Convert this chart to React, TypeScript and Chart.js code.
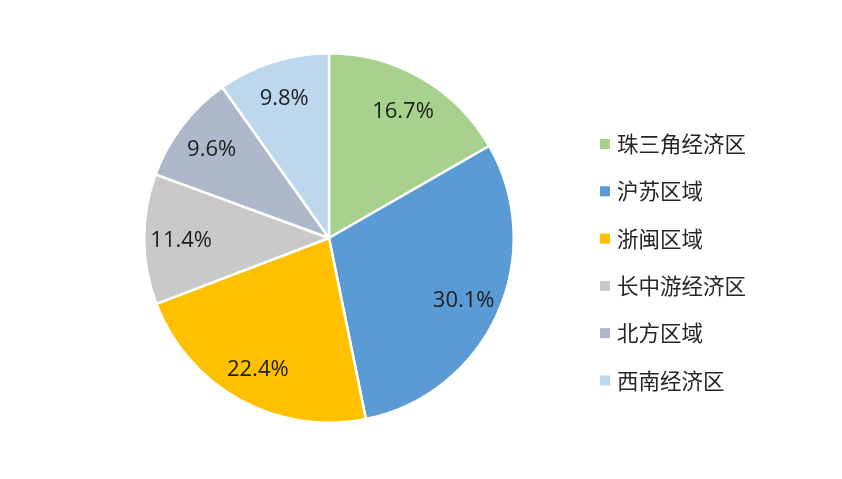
import React, { useEffect, useRef } from "react";
import { Chart, registerables } from "chart.js";

Chart.register(...registerables);

const categories = ["珠三角经济区", "沪苏区域", "浙闽区域", "长中游经济区", "北方区域", "西南经济区"];
const shares = [16.7, 30.1, 22.4, 11.4, 9.6, 9.8];
const sliceColors = ["#A9D18E", "#5B9BD5", "#FFC000", "#C9C9C9", "#ADB9CA", "#BDD7EE"];

const sliceLabelPlugin = {
  id: "sliceLabels",
  afterDatasetsDraw(chart: any) {
    const ctx = chart.ctx;
    const meta = chart.getDatasetMeta(0);
    const ds = chart.data.datasets[0];
    ctx.save();
    ctx.font = "22px 'Open Sans', 'Noto Sans', sans-serif";
    ctx.fillStyle = "#1E1E1E";
    ctx.textAlign = "center";
    ctx.textBaseline = "middle";
    meta.data.forEach((arc: any, i: number) => {
      const { x, y, startAngle, endAngle, outerRadius } = arc.getProps(
        ["x", "y", "startAngle", "endAngle", "outerRadius"],
        true
      );
      const mid = (startAngle + endAngle) / 2;
      const r = outerRadius * 0.8;
      ctx.fillText(ds.data[i].toFixed(1) + "%", x + Math.cos(mid) * r, y + Math.sin(mid) * r + 2);
    });
    ctx.restore();
  },
};

const sideLegendPlugin = {
  id: "sideLegend",
  afterDraw(chart: any, _args: any, opts: any) {
    const ctx = chart.ctx;
    const labels = chart.data.labels as string[];
    const colors = chart.data.datasets[0].backgroundColor as string[];
    ctx.save();
    ctx.font = opts.font;
    ctx.textBaseline = "middle";
    ctx.textAlign = "left";
    labels.forEach((lab, i) => {
      const cy = opts.top + i * opts.step;
      ctx.fillStyle = colors[i];
      ctx.fillRect(opts.left, cy - opts.box / 2, opts.box, opts.box);
      ctx.fillStyle = opts.color;
      ctx.fillText(lab, opts.left + opts.box + opts.gap, cy);
    });
    ctx.restore();
  },
};

export default function App() {
  const ref = useRef<HTMLCanvasElement | null>(null);
  useEffect(() => {
    document.body.style.margin = "0";
    const chart = new Chart(ref.current as HTMLCanvasElement, {
      type: "pie",
      data: {
        labels: categories,
        datasets: [
          {
            data: shares,
            backgroundColor: sliceColors,
            borderColor: "#FFFFFF",
            borderWidth: 2.5,
          },
        ],
      },
      options: {
        responsive: false,
        animation: false,
        layout: { padding: { left: 143, right: 327, top: 52, bottom: 55 } },
        plugins: {
          legend: { display: false },
          tooltip: { enabled: false },
          sideLegend: {
            left: 600,
            top: 144,
            step: 47.3,
            box: 10,
            gap: 7,
            font: "21.5px 'Noto Sans CJK SC', sans-serif",
            color: "#262626",
          },
        } as any,
      },
      plugins: [sliceLabelPlugin, sideLegendPlugin],
    });
    return () => chart.destroy();
  }, []);
  return (
    <div style={{ width: 842, height: 479, background: "#fff" }}>
      <canvas ref={ref} width={842} height={479} />
    </div>
  );
}
